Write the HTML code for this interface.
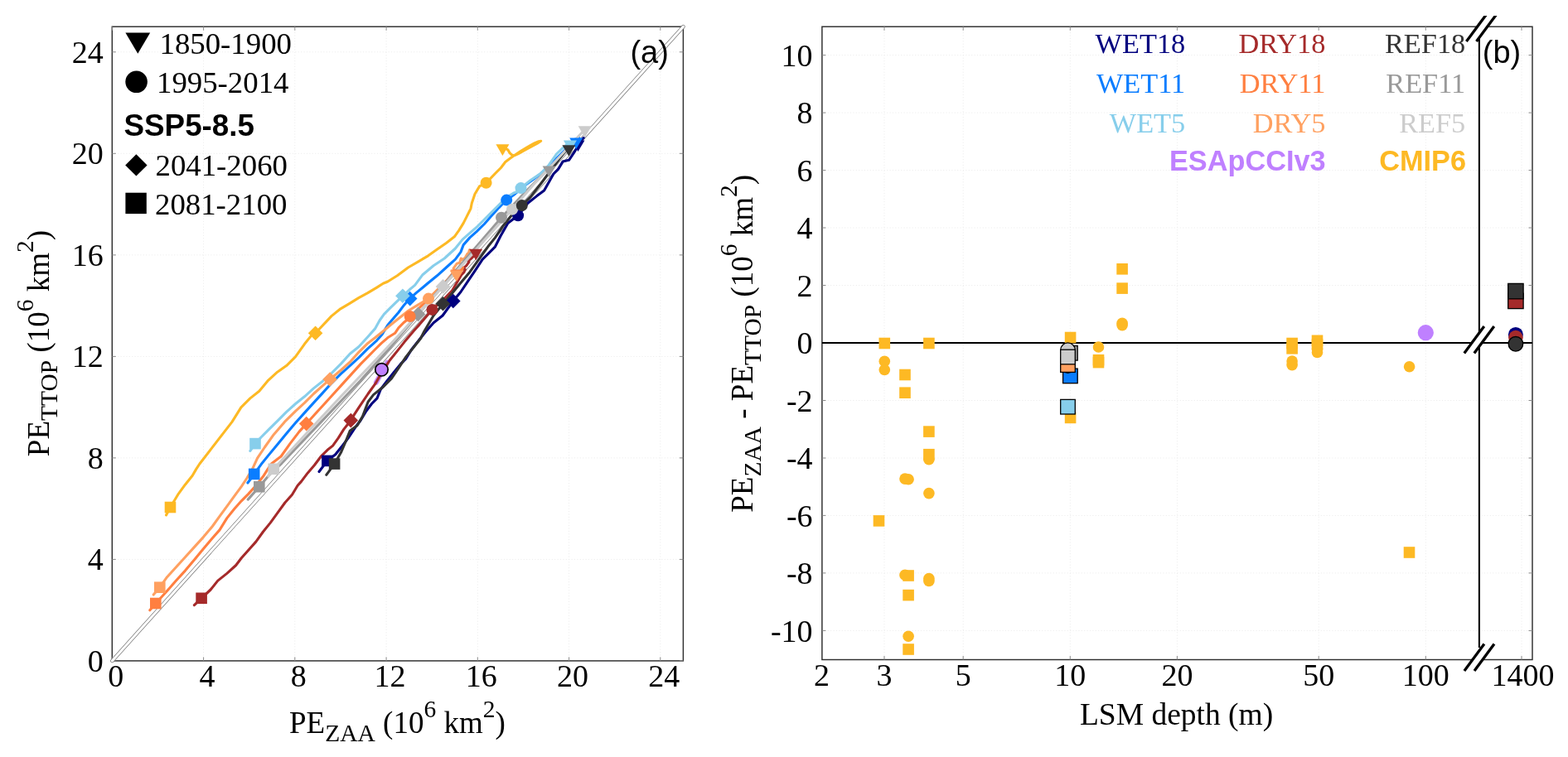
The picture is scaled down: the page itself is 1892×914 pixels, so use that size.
<!DOCTYPE html>
<html lang="en">
<head>
<meta charset="utf-8">
<title>Permafrost extent: PE_ZAA vs PE_TTOP and LSM depth</title>
<style>
html,body{margin:0;padding:0;background:#ffffff;}
body{width:1892px;height:914px;overflow:hidden;}
svg{display:block;}
.s{font-family:"Liberation Serif", serif;}
.h{font-family:"Liberation Sans", sans-serif;}
</style>
</head>
<body>
<svg width="1892" height="914" viewBox="0 0 1892 914">
<rect x="0" y="0" width="1892" height="914" fill="#ffffff"/>

<g id="panel-a">
<g stroke="#ededed" stroke-width="1" stroke-dasharray="1.2 2.2" fill="none">
<line x1="245.6" y1="32.2" x2="245.6" y2="797.9"/>
<line x1="135.3" y1="675.4" x2="824.4" y2="675.4"/>
<line x1="355.8" y1="32.2" x2="355.8" y2="797.9"/>
<line x1="135.3" y1="552.9" x2="824.4" y2="552.9"/>
<line x1="466.1" y1="32.2" x2="466.1" y2="797.9"/>
<line x1="135.3" y1="430.4" x2="824.4" y2="430.4"/>
<line x1="576.3" y1="32.2" x2="576.3" y2="797.9"/>
<line x1="135.3" y1="307.9" x2="824.4" y2="307.9"/>
<line x1="686.6" y1="32.2" x2="686.6" y2="797.9"/>
<line x1="135.3" y1="185.3" x2="824.4" y2="185.3"/>
<line x1="796.8" y1="32.2" x2="796.8" y2="797.9"/>
<line x1="135.3" y1="62.8" x2="824.4" y2="62.8"/>
</g>
<rect x="135.3" y="32.2" width="689.1" height="765.7" fill="none" stroke="#2e2e2e" stroke-width="1.45"/>
<g stroke="#8a8a8a" stroke-width="1">
<line x1="135.3" y1="797.9" x2="135.3" y2="793.4"/>
<line x1="135.3" y1="32.2" x2="135.3" y2="36.7"/>
<line x1="135.3" y1="797.9" x2="139.8" y2="797.9"/>
<line x1="824.4" y1="797.9" x2="819.9" y2="797.9"/>
<line x1="245.6" y1="797.9" x2="245.6" y2="793.4"/>
<line x1="245.6" y1="32.2" x2="245.6" y2="36.7"/>
<line x1="135.3" y1="675.4" x2="139.8" y2="675.4"/>
<line x1="824.4" y1="675.4" x2="819.9" y2="675.4"/>
<line x1="355.8" y1="797.9" x2="355.8" y2="793.4"/>
<line x1="355.8" y1="32.2" x2="355.8" y2="36.7"/>
<line x1="135.3" y1="552.9" x2="139.8" y2="552.9"/>
<line x1="824.4" y1="552.9" x2="819.9" y2="552.9"/>
<line x1="466.1" y1="797.9" x2="466.1" y2="793.4"/>
<line x1="466.1" y1="32.2" x2="466.1" y2="36.7"/>
<line x1="135.3" y1="430.4" x2="139.8" y2="430.4"/>
<line x1="824.4" y1="430.4" x2="819.9" y2="430.4"/>
<line x1="576.3" y1="797.9" x2="576.3" y2="793.4"/>
<line x1="576.3" y1="32.2" x2="576.3" y2="36.7"/>
<line x1="135.3" y1="307.9" x2="139.8" y2="307.9"/>
<line x1="824.4" y1="307.9" x2="819.9" y2="307.9"/>
<line x1="686.6" y1="797.9" x2="686.6" y2="793.4"/>
<line x1="686.6" y1="32.2" x2="686.6" y2="36.7"/>
<line x1="135.3" y1="185.3" x2="139.8" y2="185.3"/>
<line x1="824.4" y1="185.3" x2="819.9" y2="185.3"/>
<line x1="796.8" y1="797.9" x2="796.8" y2="793.4"/>
<line x1="796.8" y1="32.2" x2="796.8" y2="36.7"/>
<line x1="135.3" y1="62.8" x2="139.8" y2="62.8"/>
<line x1="824.4" y1="62.8" x2="819.9" y2="62.8"/>
</g>
<line x1="135.3" y1="797.9" x2="824.4" y2="32.2" stroke="#7c7c7c" stroke-width="4.5" stroke-linecap="round"/>
<line x1="135.3" y1="797.9" x2="824.4" y2="32.2" stroke="#ffffff" stroke-width="3.0" stroke-linecap="round"/>
<line x1="453.9" y1="461.7" x2="467.3" y2="437.6" stroke="#c78cff" stroke-width="6" stroke-linecap="round"/>
<g id="curves-a" fill="none" stroke-width="3.1" stroke-linejoin="round" stroke-linecap="round">
<path d="M200.5 621.9 L205.5 612.5 L214.7 597.2 L223.4 585.2 L232.2 574.2 L236.6 566.6 L240.9 560.0 L280.0 509.4 L290.9 491.9 L301.9 480.9 L312.8 472.2 L323.8 459.1 L334.7 449.2 L345.6 441.6 L356.6 430.6 L367.5 415.3 L376.3 404.4 L380.6 402.2 L400.0 381.6 L410.9 372.8 L421.9 366.3 L432.8 359.7 L443.8 353.7 L454.7 347.1 L462.3 342.2 L467.8 340.0 L479.4 332.8 L492.5 323.0 L505.6 315.3 L516.6 308.8 L527.5 301.1 L538.4 293.4 L548.3 285.8 L553.8 278.1 L559.2 269.4 L563.6 260.6 L568.0 251.9 L569.3 245.3 L573.0 234.2 L578.6 224.9 L586.6 220.8 L597.5 209.5 L604.5 202.5 L609.8 195.5 L616.8 190.3 L621.2 187.2 L628.2 182.6 L636.9 177.3 L644.8 172.9 L650.1 170.7 L652.7 170.3 L648.3 173.1 L641.3 177.0 L632.5 181.7 L625.5 185.6 L621.2 187.5 L617.7 187.2 L615.0 184.6 L612.8 180.8 L609.3 178.9" stroke="#fdb924"/>
<path d="M385.0 569.5 L394.9 556.4 L404.7 548.8 L413.5 537.8 L420.0 529.1 L428.8 515.9 L435.3 507.2 L441.9 496.3 L448.5 487.5 L455.0 480.9 L459.4 470.0 L466.0 461.3 L474.7 450.3 L483.5 439.4 L490.0 432.8 L496.6 421.9 L505.3 410.9 L514.1 400.0 L523.1 389.7 L534.1 381.0 L546.8 363.5 L555.9 352.5 L564.7 339.4 L573.5 326.3 L582.2 313.1 L588.8 306.6 L597.5 297.8 L604.1 284.7 L612.8 269.4 L621.6 262.8 L624.9 260.6 L636.9 245.3 L647.8 236.6 L656.6 230.0 L667.9 210.0 L673.5 204.4 L679.1 195.1 L686.5 193.3 L694.0 182.1 L701.4 169.1 L704.2 166.3" stroke="#00007f"/>
<path d="M298.9 583.0 L306.6 572.7 L306.7 572.4 L315.0 560.8 L323.8 549.9 L334.7 536.7 L345.6 523.6 L356.6 510.5 L367.5 498.4 L378.4 486.4 L389.4 474.4 L400.3 462.3 L411.3 451.4 L422.2 441.6 L433.1 431.7 L443.8 420.9 L454.7 411.1 L461.3 403.4 L467.8 392.5 L474.4 384.8 L480.9 377.2 L487.5 368.4 L494.1 360.8 L502.8 353.1 L509.4 347.7 L515.9 342.2 L527.5 332.8 L538.4 323.0 L549.4 313.1 L555.9 304.4 L559.2 295.6 L566.9 286.9 L575.6 279.2 L584.4 270.5 L593.1 260.6 L601.9 250.8 L611.1 241.4 L611.2 241.6 L621.4 234.2 L634.4 223.0 L643.7 216.5 L653.0 209.1 L664.2 198.8 L675.3 187.7 L686.5 176.5 L694.0 168.1 L698.6 166.3" stroke="#0a7dff"/>
<path d="M301.9 544.4 L308.0 535.6 L315.0 528.0 L323.8 519.2 L334.7 508.3 L345.6 497.4 L356.6 487.5 L367.5 478.8 L378.4 468.9 L389.4 460.2 L400.3 450.3 L411.3 439.4 L422.2 427.3 L432.8 418.8 L443.8 406.7 L452.5 396.9 L458.0 387.0 L463.4 379.4 L471.1 371.7 L478.8 364.1 L486.4 357.0 L494.1 349.8 L500.6 344.4 L510.0 331.7 L523.1 320.8 L536.3 312.0 L549.4 300.0 L558.1 289.1 L566.9 281.4 L575.6 273.8 L584.4 265.0 L593.1 256.3 L601.9 247.5 L610.6 238.8 L619.4 233.3 L628.1 230.0 L628.5 227.1 L640.0 217.8 L653.0 209.1 L661.4 200.3 L671.6 185.8 L679.1 178.7 L686.5 172.4" stroke="#87ceeb"/>
<path d="M234.4 730.6 L243.1 722.3 L254.1 712.0 L262.8 701.1 L273.8 692.4 L284.7 682.5 L291.3 673.8 L300.0 663.9 L308.8 654.1 L317.5 642.0 L326.3 631.1 L335.0 619.1 L343.8 607.0 L352.5 597.2 L359.1 586.3 L363.5 581.4 L371.4 570.9 L379.3 561.7 L387.2 551.2 L395.1 543.3 L401.6 538.1 L408.2 528.9 L414.8 518.4 L420.0 511.8 L422.7 507.9 L433.1 491.9 L444.1 475.5 L452.8 463.4 L461.6 448.1 L470.3 435.0 L479.1 424.1 L487.8 413.1 L498.8 400.0 L506.3 391.6 L514.1 382.4 L521.4 373.9 L532.5 364.0 L539.1 357.5 L545.6 350.9 L556.7 332.0 L559.9 328.7 L561.3 325.4 L558.6 324.1 L562.6 320.9 L565.9 316.3 L564.5 314.9 L569.1 311.7 L571.8 309.0 L574.4 305.8" stroke="#a52a2a"/>
<path d="M180.8 736.8 L187.8 728.5 L195.0 720.8 L203.8 711.0 L212.5 701.1 L223.4 689.1 L234.4 675.9 L245.3 662.8 L256.3 649.7 L265.0 639.9 L273.8 625.6 L282.5 614.7 L291.3 604.8 L300.0 596.1 L308.8 586.3 L317.5 575.3 L323.0 566.6 L327.4 560.0 L339.1 551.0 L350.0 535.6 L360.9 521.4 L369.7 511.6 L380.6 499.5 L391.6 487.5 L402.5 475.5 L413.5 463.4 L424.4 451.4 L435.3 439.4 L443.8 430.8 L452.5 422.0 L460.2 414.4 L467.8 407.8 L476.6 402.3 L480.9 395.8 L487.5 389.2 L495.2 382.7 L505.6 372.2 L516.6 361.3 L527.5 350.3 L538.4 339.4 L549.4 326.3 L551.4 326.8 L554.7 324.1 L557.3 325.8 L558.6 322.8 L556.7 326.8" stroke="#ff7f40"/>
<path d="M185.2 718.0 L192.8 709.2 L201.6 696.7 L212.5 684.7 L223.4 672.7 L234.4 660.6 L245.3 648.6 L256.3 635.5 L265.0 623.4 L273.8 611.4 L282.5 599.4 L291.3 587.3 L297.8 577.5 L304.4 566.6 L310.6 553.1 L319.4 540.0 L330.3 524.7 L343.4 509.4 L356.6 496.3 L367.5 486.4 L378.4 475.5 L389.4 465.6 L398.1 458.0 L411.3 447.0 L422.2 437.2 L432.8 425.3 L443.8 414.4 L452.5 407.8 L461.3 400.7 L471.1 392.5 L482.0 383.8 L493.0 375.0 L503.9 368.4 L517.0 360.6 L527.5 350.3 L536.3 341.6 L542.8 335.0 L549.4 331.7 L549.1 326.8 L547.1 324.1 L551.4 318.2 L554.7 317.2 L556.3 312.0 L558.0 313.6 L561.3 311.3 L563.9 306.4 L564.9 307.4 L566.5 301.8 L567.8 303.1" stroke="#ffa060"/>
<path d="M393.8 573.3 L403.6 560.1 L411.3 546.6 L417.8 531.3 L422.2 520.3 L431.0 513.8 L437.5 502.8 L444.1 485.3 L450.6 476.6 L461.6 467.8 L472.5 456.9 L481.3 443.8 L490.0 430.6 L498.8 419.7 L507.5 408.8 L511.9 400.0 L523.1 381.0 L534.5 366.7 L545.0 354.7 L555.9 341.6 L566.9 328.4 L577.8 313.1 L588.8 297.8 L597.5 286.9 L606.3 273.8 L615.0 262.8 L623.8 251.9 L629.9 247.9 L629.8 248.1 L640.0 237.9 L653.0 221.2 L664.2 206.3 L675.3 191.4 L682.8 182.1 L686.5 178.7" stroke="#333333"/>
<path d="M299.2 603.1 L312.8 587.7 L325.0 573.3 L340.0 559.3 L434.5 460.0 L470.0 420.5 L504.5 379.4 L605.0 262.7 L634.4 231.4 L662.3 203.5" stroke="#999999"/>
<path d="M323.8 575.0 L330.3 566.3 L367.5 525.8 L411.3 478.8 L455.0 432.8 L483.5 402.2 L534.5 345.9 L618.0 252.8 L643.7 223.0 L671.6 193.3 L706.0 156.0" stroke="#cccccc"/>
</g>
<g id="markers-a">
<rect x="198.7" y="605.7" width="13.6" height="13.6" fill="#fdb924"/>
<rect x="388.1" y="549.6" width="13.6" height="13.6" fill="#00007f"/>
<rect x="299.9" y="565.6" width="13.6" height="13.6" fill="#0a7dff"/>
<rect x="301.2" y="528.8" width="13.6" height="13.6" fill="#87ceeb"/>
<rect x="236.3" y="715.5" width="13.6" height="13.6" fill="#a52a2a"/>
<rect x="181.0" y="721.7" width="13.6" height="13.6" fill="#ff7f40"/>
<rect x="186.0" y="702.4" width="13.6" height="13.6" fill="#ffa060"/>
<rect x="396.8" y="553.3" width="13.6" height="13.6" fill="#333333"/>
<rect x="306.0" y="580.9" width="13.6" height="13.6" fill="#999999"/>
<rect x="323.5" y="559.5" width="13.6" height="13.6" fill="#cccccc"/>
<path d="M371.8 402.2 L380.6 393.4 L389.4 402.2 L380.6 411.0Z" fill="#fdb924"/>
<path d="M485.9 360.6 L494.7 351.8 L503.5 360.6 L494.7 369.4Z" fill="#0a7dff"/>
<path d="M477.1 357.3 L485.9 348.5 L494.7 357.3 L485.9 366.1Z" fill="#87ceeb"/>
<path d="M538.0 363.5 L546.8 354.7 L555.6 363.5 L546.8 372.3Z" fill="#00007f"/>
<path d="M360.9 511.6 L369.7 502.8 L378.5 511.6 L369.7 520.4Z" fill="#ff7f40"/>
<path d="M495.7 379.4 L504.5 370.6 L513.3 379.4 L504.5 388.2Z" fill="#999999"/>
<path d="M414.5 507.6 L423.3 498.8 L432.1 507.6 L423.3 516.4Z" fill="#a52a2a"/>
<path d="M389.3 458.0 L398.1 449.2 L406.9 458.0 L398.1 466.8Z" fill="#ffa060"/>
<path d="M525.7 366.7 L534.5 357.9 L543.3 366.7 L534.5 375.5Z" fill="#333333"/>
<path d="M525.7 345.9 L534.5 337.1 L543.3 345.9 L534.5 354.7Z" fill="#cccccc"/>
<circle cx="586.6" cy="220.8" r="7.0" fill="#fdb924"/>
<circle cx="625.1" cy="260.2" r="7.0" fill="#00007f"/>
<circle cx="605.0" cy="262.7" r="7.0" fill="#999999"/>
<circle cx="611.2" cy="241.6" r="7.0" fill="#0a7dff"/>
<circle cx="628.5" cy="227.1" r="7.0" fill="#87ceeb"/>
<circle cx="494.7" cy="382.0" r="7.0" fill="#ff7f40"/>
<circle cx="521.4" cy="373.9" r="7.0" fill="#a52a2a"/>
<circle cx="517.0" cy="360.6" r="7.0" fill="#ffa060"/>
<circle cx="618.0" cy="252.8" r="7.0" fill="#cccccc"/>
<circle cx="629.8" cy="248.1" r="7.0" fill="#333333"/>
<path d="M598.4 174.3 L614.4 174.3 L606.4 187.9Z" fill="#fdb924"/>
<path d="M689.5 169.5 L705.5 169.5 L697.5 183.1Z" fill="#00007f"/>
<path d="M687.2 166.4 L703.2 166.4 L695.2 180.0Z" fill="#0a7dff"/>
<path d="M679.9 169.5 L695.9 169.5 L687.9 183.1Z" fill="#87ceeb"/>
<path d="M543.6 325.6 L559.6 325.6 L551.6 339.2Z" fill="#ff7f40"/>
<path d="M542.7 326.4 L558.7 326.4 L550.7 340.0Z" fill="#ffa060"/>
<path d="M566.2 300.7 L582.2 300.7 L574.2 314.3Z" fill="#a52a2a"/>
<path d="M654.6 200.4 L670.6 200.4 L662.6 214.0Z" fill="#999999"/>
<path d="M678.4 175.2 L694.4 175.2 L686.4 188.8Z" fill="#333333"/>
<path d="M697.7 152.3 L713.7 152.3 L705.7 165.9Z" fill="#cccccc"/>
<circle cx="460.5" cy="446.3" r="7.7" fill="#bf80ff" stroke="#000000" stroke-width="1.7"/>
</g>
<g class="s" font-size="38" fill="#000000">
<text x="139.8" y="828.9" text-anchor="middle">0</text>
<text x="124.8" y="810.9" text-anchor="end">0</text>
<text x="250.1" y="828.9" text-anchor="middle">4</text>
<text x="124.8" y="688.4" text-anchor="end">4</text>
<text x="360.3" y="828.9" text-anchor="middle">8</text>
<text x="124.8" y="565.9" text-anchor="end">8</text>
<text x="470.6" y="828.9" text-anchor="middle">12</text>
<text x="124.8" y="443.4" text-anchor="end">12</text>
<text x="580.8" y="828.9" text-anchor="middle">16</text>
<text x="124.8" y="320.9" text-anchor="end">16</text>
<text x="691.1" y="828.9" text-anchor="middle">20</text>
<text x="124.8" y="198.3" text-anchor="end">20</text>
<text x="801.3" y="828.9" text-anchor="middle">24</text>
<text x="124.8" y="75.8" text-anchor="end">24</text>
</g>
<text class="s" font-size="37" x="479.4" y="884.8" text-anchor="middle">PE<tspan dy="10.3" font-size="29.5">ZAA</tspan><tspan dy="-10.3"> (10</tspan><tspan dy="-19.3" font-size="29.5">6</tspan><tspan dy="19.3"> km</tspan><tspan dy="-19.3" font-size="29.5">2</tspan><tspan dy="19.3">)</tspan></text>
<text class="s" font-size="37" transform="translate(59.0 414.5) rotate(-90)" text-anchor="middle">PE<tspan dy="10.3" font-size="29.5">TTOP</tspan><tspan dy="-10.3"> (10</tspan><tspan dy="-19.3" font-size="29.5">6</tspan><tspan dy="19.3"> km</tspan><tspan dy="-19.3" font-size="29.5">2</tspan><tspan dy="19.3">)</tspan></text>
<g fill="#000000">
<path d="M151.4 39.6 L181.2 39.6 L166.3 64.8Z"/>
<circle cx="164.6" cy="98.8" r="13.3" fill="#000000"/>
<path d="M151.2 199.4 L164.4 186.2 L177.6 199.4 L164.4 212.6Z" fill="#000000"/>
<rect x="151.4" y="232.7" width="25.4" height="25.4"/>
</g>
<g class="s" font-size="36.8" fill="#000000">
<text x="192.5" y="65.0">1850-1900</text>
<text x="189.0" y="111.8">1995-2014</text>
<text x="187.5" y="212.2">2041-2060</text>
<text x="187.0" y="258.5">2081-2100</text>
</g>
<text class="h" font-size="36.8" font-weight="bold" x="149.5" y="164.2">SSP5-8.5</text>
<text class="h" font-size="38" x="760.4" y="75.6">(a)</text>
</g>
<g id="panel-b">
<g stroke="#ededed" stroke-width="1" stroke-dasharray="1.2 2.2" fill="none">
<line x1="1067.0" y1="32.2" x2="1067.0" y2="796.5"/>
<line x1="1162.2" y1="32.2" x2="1162.2" y2="796.5"/>
<line x1="1291.3" y1="32.2" x2="1291.3" y2="796.5"/>
<line x1="1420.4" y1="32.2" x2="1420.4" y2="796.5"/>
<line x1="1591.2" y1="32.2" x2="1591.2" y2="796.5"/>
<line x1="1720.3" y1="32.2" x2="1720.3" y2="796.5"/>
<line x1="1836.0" y1="32.2" x2="1836.0" y2="796.5"/>
<line x1="991.9" y1="761.4" x2="1849.0" y2="761.4"/>
<line x1="991.9" y1="691.9" x2="1849.0" y2="691.9"/>
<line x1="991.9" y1="622.4" x2="1849.0" y2="622.4"/>
<line x1="991.9" y1="553.0" x2="1849.0" y2="553.0"/>
<line x1="991.9" y1="483.5" x2="1849.0" y2="483.5"/>
<line x1="991.9" y1="344.5" x2="1849.0" y2="344.5"/>
<line x1="991.9" y1="275.0" x2="1849.0" y2="275.0"/>
<line x1="991.9" y1="205.6" x2="1849.0" y2="205.6"/>
<line x1="991.9" y1="136.1" x2="1849.0" y2="136.1"/>
<line x1="991.9" y1="66.6" x2="1849.0" y2="66.6"/>
</g>
<rect x="991.9" y="32.2" width="857.1" height="764.3" fill="none" stroke="#2e2e2e" stroke-width="1.45"/>
<g stroke="#8a8a8a" stroke-width="1">
<line x1="1067.0" y1="796.5" x2="1067.0" y2="792.0"/>
<line x1="1067.0" y1="32.2" x2="1067.0" y2="36.7"/>
<line x1="1162.2" y1="796.5" x2="1162.2" y2="792.0"/>
<line x1="1162.2" y1="32.2" x2="1162.2" y2="36.7"/>
<line x1="1291.3" y1="796.5" x2="1291.3" y2="792.0"/>
<line x1="1291.3" y1="32.2" x2="1291.3" y2="36.7"/>
<line x1="1420.4" y1="796.5" x2="1420.4" y2="792.0"/>
<line x1="1420.4" y1="32.2" x2="1420.4" y2="36.7"/>
<line x1="1591.2" y1="796.5" x2="1591.2" y2="792.0"/>
<line x1="1591.2" y1="32.2" x2="1591.2" y2="36.7"/>
<line x1="1720.3" y1="796.5" x2="1720.3" y2="792.0"/>
<line x1="1720.3" y1="32.2" x2="1720.3" y2="36.7"/>
<line x1="1836.0" y1="796.5" x2="1836.0" y2="792.0"/>
<line x1="1836.0" y1="32.2" x2="1836.0" y2="36.7"/>
<line x1="991.9" y1="761.4" x2="996.4" y2="761.4"/>
<line x1="1849.0" y1="761.4" x2="1844.5" y2="761.4"/>
<line x1="991.9" y1="691.9" x2="996.4" y2="691.9"/>
<line x1="1849.0" y1="691.9" x2="1844.5" y2="691.9"/>
<line x1="991.9" y1="622.4" x2="996.4" y2="622.4"/>
<line x1="1849.0" y1="622.4" x2="1844.5" y2="622.4"/>
<line x1="991.9" y1="553.0" x2="996.4" y2="553.0"/>
<line x1="1849.0" y1="553.0" x2="1844.5" y2="553.0"/>
<line x1="991.9" y1="483.5" x2="996.4" y2="483.5"/>
<line x1="1849.0" y1="483.5" x2="1844.5" y2="483.5"/>
<line x1="991.9" y1="414.0" x2="996.4" y2="414.0"/>
<line x1="1849.0" y1="414.0" x2="1844.5" y2="414.0"/>
<line x1="991.9" y1="344.5" x2="996.4" y2="344.5"/>
<line x1="1849.0" y1="344.5" x2="1844.5" y2="344.5"/>
<line x1="991.9" y1="275.0" x2="996.4" y2="275.0"/>
<line x1="1849.0" y1="275.0" x2="1844.5" y2="275.0"/>
<line x1="991.9" y1="205.6" x2="996.4" y2="205.6"/>
<line x1="1849.0" y1="205.6" x2="1844.5" y2="205.6"/>
<line x1="991.9" y1="136.1" x2="996.4" y2="136.1"/>
<line x1="1849.0" y1="136.1" x2="1844.5" y2="136.1"/>
<line x1="991.9" y1="66.6" x2="996.4" y2="66.6"/>
<line x1="1849.0" y1="66.6" x2="1844.5" y2="66.6"/>
</g>
<line x1="991.9" y1="414.0" x2="1849.0" y2="414.0" stroke="#000000" stroke-width="2.0"/>
<line x1="1784.9" y1="46" x2="1784.9" y2="782" stroke="#000000" stroke-width="2.1"/>
<clipPath id="topclip"><rect x="1740" y="19" width="100" height="60"/></clipPath>
<g clip-path="url(#topclip)"><path d="M1769.4 50.0 L1793.4 17.6 L1805.5 17.6 L1781.5 50.0Z" fill="#ffffff"/><line x1="1769.4" y1="50.0" x2="1793.4" y2="17.6" stroke="#000000" stroke-width="3.3"/><line x1="1781.5" y1="50.0" x2="1805.5" y2="17.6" stroke="#000000" stroke-width="3.3"/></g>
<path d="M1766.8 426.4 L1790.8 394.0 L1802.8 394.0 L1778.8 426.4Z" fill="#ffffff"/><line x1="1766.8" y1="426.4" x2="1790.8" y2="394.0" stroke="#000000" stroke-width="3.3"/><line x1="1778.8" y1="426.4" x2="1802.8" y2="394.0" stroke="#000000" stroke-width="3.3"/>
<path d="M1766.9 810.0 L1790.9 777.6 L1803.0 777.6 L1779.0 810.0Z" fill="#ffffff"/><line x1="1766.9" y1="810.0" x2="1790.9" y2="777.6" stroke="#000000" stroke-width="3.3"/><line x1="1779.0" y1="810.0" x2="1803.0" y2="777.6" stroke="#000000" stroke-width="3.3"/>
<g id="markers-b">
<rect x="1060.5" y="407.7" width="13.6" height="13.6" fill="#fdb924"/>
<rect x="1114.1" y="407.7" width="13.6" height="13.6" fill="#fdb924"/>
<rect x="1085.2" y="445.7" width="13.6" height="13.6" fill="#fdb924"/>
<rect x="1085.2" y="467.4" width="13.6" height="13.6" fill="#fdb924"/>
<rect x="1114.1" y="514.3" width="13.6" height="13.6" fill="#fdb924"/>
<rect x="1114.1" y="541.9" width="13.6" height="13.6" fill="#fdb924"/>
<rect x="1053.7" y="622.1" width="13.6" height="13.6" fill="#fdb924"/>
<rect x="1089.3" y="688.2" width="13.6" height="13.6" fill="#fdb924"/>
<rect x="1089.3" y="711.8" width="13.6" height="13.6" fill="#fdb924"/>
<rect x="1089.3" y="777.2" width="13.6" height="13.6" fill="#fdb924"/>
<rect x="1347.3" y="318.0" width="13.6" height="13.6" fill="#fdb924"/>
<rect x="1347.3" y="341.3" width="13.6" height="13.6" fill="#fdb924"/>
<rect x="1284.8" y="400.7" width="13.6" height="13.6" fill="#fdb924"/>
<rect x="1318.7" y="427.9" width="13.6" height="13.6" fill="#fdb924"/>
<rect x="1318.7" y="430.8" width="13.6" height="13.6" fill="#fdb924"/>
<rect x="1284.8" y="497.6" width="13.6" height="13.6" fill="#fdb924"/>
<rect x="1552.3" y="407.7" width="13.6" height="13.6" fill="#fdb924"/>
<rect x="1552.3" y="414.0" width="13.6" height="13.6" fill="#fdb924"/>
<rect x="1582.7" y="404.5" width="13.6" height="13.6" fill="#fdb924"/>
<rect x="1582.7" y="409.2" width="13.6" height="13.6" fill="#fdb924"/>
<rect x="1693.7" y="660.2" width="13.6" height="13.6" fill="#fdb924"/>
<circle cx="1067.3" cy="436.2" r="6.8" fill="#fdb924"/>
<circle cx="1067.3" cy="446.5" r="6.8" fill="#fdb924"/>
<circle cx="1092.0" cy="578.1" r="6.8" fill="#fdb924"/>
<circle cx="1096.1" cy="578.8" r="6.8" fill="#fdb924"/>
<circle cx="1120.9" cy="554.7" r="6.8" fill="#fdb924"/>
<circle cx="1120.9" cy="595.6" r="6.8" fill="#fdb924"/>
<circle cx="1092.0" cy="694.3" r="6.8" fill="#fdb924"/>
<circle cx="1120.9" cy="698.6" r="6.8" fill="#fdb924"/>
<circle cx="1120.9" cy="701.5" r="6.8" fill="#fdb924"/>
<circle cx="1096.1" cy="768.3" r="6.8" fill="#fdb924"/>
<circle cx="1354.1" cy="390.2" r="6.8" fill="#fdb924"/>
<circle cx="1354.1" cy="392.6" r="6.8" fill="#fdb924"/>
<circle cx="1325.5" cy="419.0" r="6.8" fill="#fdb924"/>
<circle cx="1559.1" cy="436.0" r="6.8" fill="#fdb924"/>
<circle cx="1559.1" cy="440.6" r="6.8" fill="#fdb924"/>
<circle cx="1589.5" cy="421.0" r="6.8" fill="#fdb924"/>
<circle cx="1589.5" cy="425.5" r="6.8" fill="#fdb924"/>
<circle cx="1700.6" cy="442.7" r="6.8" fill="#fdb924"/>
<circle cx="1720.3" cy="401.7" r="9.6" fill="#bf80ff"/>
<rect x="1279.7" y="482.4" width="17.6" height="17.6" fill="#87ceeb" stroke="#000000" stroke-width="1.3"/>
<rect x="1282.6" y="445.1" width="17.6" height="17.6" fill="#0a7dff" stroke="#000000" stroke-width="1.3"/>
<circle cx="1288.5" cy="441.6" r="8.8" fill="#ff7f40" stroke="#000000" stroke-width="1.3"/>
<rect x="1282.6" y="417.5" width="17.6" height="17.6" fill="#999999" stroke="#000000" stroke-width="1.3"/>
<rect x="1279.7" y="431.8" width="17.6" height="17.6" fill="#ffa060" stroke="#000000" stroke-width="1.3"/>
<circle cx="1288.5" cy="422.7" r="8.8" fill="#cccccc" stroke="#000000" stroke-width="1.3"/>
<rect x="1279.7" y="422.2" width="17.6" height="17.6" fill="#cccccc" stroke="#000000" stroke-width="1.3"/>
<rect x="1819.7" y="354.2" width="18.4" height="18.4" fill="#a52a2a" stroke="#000000" stroke-width="1.3"/>
<rect x="1819.7" y="342.4" width="18.4" height="18.4" fill="#333333" stroke="#000000" stroke-width="1.3"/>
<circle cx="1828.9" cy="403.9" r="9.0" fill="#00007f"/>
<circle cx="1828.9" cy="407.6" r="8.8" fill="#a52a2a"/>
<circle cx="1828.9" cy="415.3" r="8.8" fill="#333333" stroke="#000000" stroke-width="1.3"/>
</g>
<g class="s" font-size="38" fill="#000000">
<text x="991.4" y="828.4" text-anchor="middle">2</text>
<text x="1067.0" y="828.4" text-anchor="middle">3</text>
<text x="1162.2" y="828.4" text-anchor="middle">5</text>
<text x="1291.3" y="828.4" text-anchor="middle">10</text>
<text x="1420.4" y="828.4" text-anchor="middle">20</text>
<text x="1591.2" y="828.4" text-anchor="middle">50</text>
<text x="1720.3" y="828.4" text-anchor="middle">100</text>
<text x="1837.5" y="828.4" text-anchor="middle">1400</text>
<text x="980.6" y="774.5" text-anchor="end">-10</text>
<text x="980.6" y="705.0" text-anchor="end">-8</text>
<text x="980.6" y="635.5" text-anchor="end">-6</text>
<text x="980.6" y="566.1" text-anchor="end">-4</text>
<text x="980.6" y="496.6" text-anchor="end">-2</text>
<text x="980.6" y="427.1" text-anchor="end">0</text>
<text x="980.6" y="357.6" text-anchor="end">2</text>
<text x="980.6" y="288.1" text-anchor="end">4</text>
<text x="980.6" y="218.7" text-anchor="end">6</text>
<text x="980.6" y="149.2" text-anchor="end">8</text>
<text x="980.6" y="79.7" text-anchor="end">10</text>
</g>
<text class="s" font-size="37.5" x="1419.6" y="875.0" text-anchor="middle">LSM depth (m)</text>
<text class="s" font-size="37" transform="translate(908.0 414.8) rotate(-90)" text-anchor="middle">PE<tspan dy="10.3" font-size="29.5">ZAA</tspan><tspan dy="-10.3"> - PE</tspan><tspan dy="10.3" font-size="29.5">TTOP</tspan><tspan dy="-10.3"> (10</tspan><tspan dy="-19.3" font-size="29.5">6</tspan><tspan dy="19.3"> km</tspan><tspan dy="-19.3" font-size="29.5">2</tspan><tspan dy="19.3">)</tspan></text>
<g class="s" font-size="34.3" text-anchor="end">
<text x="1430.2" y="64.4" fill="#00007f">WET18</text>
<text x="1599.3" y="64.4" fill="#a52a2a">DRY18</text>
<text x="1768.2" y="64.4" fill="#333333">REF18</text>
<text x="1430.2" y="112.1" fill="#0a7dff">WET11</text>
<text x="1599.3" y="112.1" fill="#ff7f40">DRY11</text>
<text x="1768.2" y="112.1" fill="#999999">REF11</text>
<text x="1430.2" y="159.6" fill="#87ceeb">WET5</text>
<text x="1599.3" y="159.6" fill="#ffa060">DRY5</text>
<text x="1768.2" y="159.6" fill="#cccccc">REF5</text>
</g>
<g class="h" font-size="34.3" font-weight="bold" text-anchor="end">
<text x="1599.6" y="206.2" fill="#bf80ff">ESApCCIv3</text>
<text x="1769.0" y="206.2" fill="#fdb924">CMIP6</text>
</g>
<text class="h" font-size="38" x="1788.8" y="75.6">(b)</text>
</g>
</svg>
</body>
</html>
